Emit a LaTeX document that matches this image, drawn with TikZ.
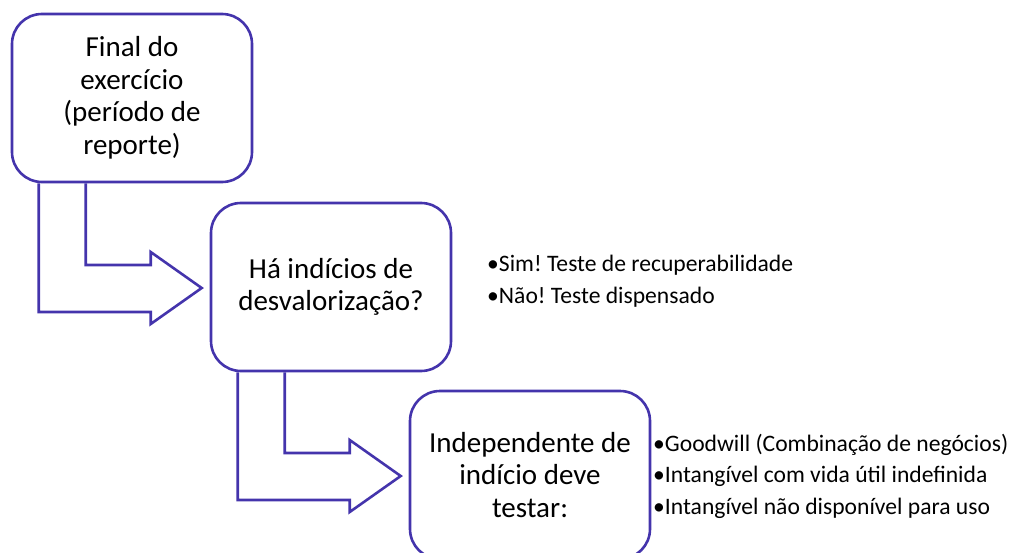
\documentclass[tikz,border=0pt]{standalone}
\usepackage{fontspec}
\setmainfont{Carlito}
\frenchspacing
\usetikzlibrary{calc}
\definecolor{edgec}{RGB}{68,52,172}
\tikzset{
  box/.style={draw=edgec, line width=2.6pt, rounded corners=30pt, minimum width=240pt, minimum height=168pt, align=center, inner sep=0pt, font=\fontsize{29}{32.5}\selectfont},
  arr/.style={draw=edgec, line width=2.6pt, line join=miter},
  blist/.style={anchor=west, align=left, inner sep=0pt, font=\fontsize{23.6}{31.5}\selectfont}
}
\begin{document}
\begin{tikzpicture}[x=1pt,y=-1pt]
\useasboundingbox (0,0) rectangle (1016,553);
\clip (0,0) rectangle (1016,553);
\node[box] (b1) at (132,98) {Final do\\exercício\\(período de\\reporte)};
\node[box] (b2) at (331,287) {Há indícios de\\desvalorização?};
\node[box] (b3) at (530,475) {Independente de\\indício deve\\testar:};
\node[blist] (l2) at (487,281) {•Sim! Teste de recuperabilidade\\•Não! Teste dispensado};
\node[blist] (l3) at (653,476) {•Goodwill (Combinação de negócios)\\•Intangível com vida útil indefinida\\•Intangível não disponível para uso};
% bent arrow 1
\draw[arr] ($(b1.south west)+(28,0)$) |- ($(b2.west)+(-59,25)$) -- ($(b2.west)+(-59,37)$) -- ($(b2.west)+(-8,1)$) -- ($(b2.west)+(-59,-35)$) -- ($(b2.west)+(-59,-22)$) -| ($(b1.south west)+(75,0)$);
% bent arrow 2
\draw[arr] ($(b2.south west)+(28,0)$) |- ($(b3.west)+(-59,25)$) -- ($(b3.west)+(-59,37)$) -- ($(b3.west)+(-8,1)$) -- ($(b3.west)+(-59,-35)$) -- ($(b3.west)+(-59,-22)$) -| ($(b2.south west)+(75,0)$);
\end{tikzpicture}
\end{document}
